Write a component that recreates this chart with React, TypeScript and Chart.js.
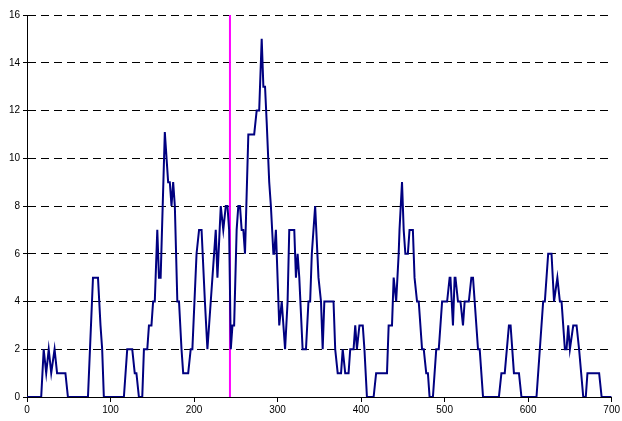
import React, { useEffect, useRef } from "react";
import { Chart, registerables } from "chart.js";

Chart.register(...registerables);

// Series sample positions (x) and values (y)
const seriesX = [
  0, 17, 20, 23, 26, 29, 33, 36, 46, 49, 73, 79, 85, 88, 90, 92, 116, 120, 126, 129,
  131, 134, 138, 140, 144, 146, 149, 151, 153, 156, 158, 160, 165, 169, 171, 173, 175, 177, 180, 182,
  185, 187, 193, 196, 198, 203, 206, 209, 213, 216, 220, 226, 228, 232, 235, 238, 240, 242, 244, 246,
  248, 251, 253, 255, 257, 259, 261, 265, 272, 275, 278, 281, 283, 285, 287, 290, 292, 295, 296, 298,
  302, 305, 309, 312, 314, 320, 322, 324, 326, 330, 334, 337, 339, 341, 345, 349, 352, 354, 356, 367,
  369, 372, 376, 378, 381, 385, 387, 391, 393, 395, 398, 402, 404, 407, 415, 418, 431, 433, 437, 439,
  442, 445, 446, 449, 451, 453, 456, 458, 462, 464, 467, 469, 473, 475, 478, 480, 482, 486, 490, 493,
  497, 503, 506, 507, 510, 512, 513, 516, 519, 522, 524, 529, 532, 534, 536, 540, 542, 546, 565, 568,
  572, 577, 579, 583, 589, 592, 610, 614, 618, 620, 624, 628, 631, 635, 638, 640, 644, 646, 648, 650,
  654, 658, 661, 666, 669, 671, 685, 688, 700,
];
const seriesY = [
  0, 0, 2, 1, 2, 1, 2, 1, 1, 0, 0, 5, 5, 3, 2, 0, 0, 2, 2, 1,
  1, 0, 0, 2, 2, 3, 3, 4, 4, 7, 5, 5, 11.1, 9, 9, 8, 9, 8, 4, 4,
  2, 1, 1, 2, 2, 6, 7, 7, 4, 2, 4, 7, 5, 8, 7, 8, 8, 7, 2, 3,
  3, 7, 8, 8, 7, 7, 6, 11, 11, 12, 12, 15, 13, 13, 11.5, 9, 8, 6, 6, 7,
  3, 4, 2, 4, 7, 7, 5, 6, 5, 2, 2, 4, 4, 6, 8, 5, 4, 2, 4, 4,
  2, 1, 1, 2, 1, 1, 2, 2, 3, 2, 3, 3, 2, 0, 0, 1, 1, 3, 3, 5,
  4, 6, 7, 9, 7, 6, 6, 7, 7, 5, 4, 4, 2, 2, 1, 1, 0, 0, 2, 2,
  4, 4, 5, 5, 3, 5, 5, 4, 4, 3, 4, 4, 5, 5, 4, 2, 2, 0, 0, 1,
  1, 3, 3, 1, 1, 0, 0, 2, 4, 4, 6, 6, 4, 5, 4, 4, 2, 2, 3, 2,
  3, 3, 2, 0, 0, 1, 1, 0, 0,
];

// Vertical marker
const markerX = 243;
const markerYRange = [0, 16];

// Axis ranges
const xRange = [0, 700];
const xStep = 100;
const yRange = [0, 16];
const yStep = 2;

export default function App() {
  const canvasRef = useRef<HTMLCanvasElement | null>(null);

  useEffect(() => {
    const canvas = canvasRef.current;
    if (!canvas) return;
    const mainData = seriesX.map((x, i) => ({ x, y: seriesY[i] }));
    const markerData = markerYRange.map((y) => ({ x: markerX, y }));
    const font = { family: "'Liberation Sans', Arial, sans-serif", size: 10 };

    const chart = new Chart(canvas, {
      type: "line",
      data: {
        datasets: [
          {
            data: mainData,
            borderColor: "#000080",
            borderWidth: 2,
            pointRadius: 0,
            tension: 0,
            fill: false,
          },
          {
            data: markerData,
            borderColor: "#FF00FF",
            borderWidth: 2,
            pointRadius: 0,
            tension: 0,
            fill: false,
          },
        ],
      },
      options: {
        animation: false,
        responsive: false,
        layout: { padding: { left: 0, top: 15, right: 9, bottom: 0 } },
        plugins: {
          legend: { display: false },
          tooltip: { enabled: false },
        },
        scales: {
          x: {
            type: "linear",
            min: xRange[0],
            max: xRange[1],
            ticks: { stepSize: xStep, color: "#000", font, padding: 2, maxRotation: 0 },
            grid: {
              drawOnChartArea: false,
              drawTicks: true,
              tickLength: 5,
              color: "#000",
            },
            border: { display: true, color: "#000", width: 1 },
            afterFit: (scale: any) => {
              scale.height = 24;
            },
          },
          y: {
            type: "linear",
            min: yRange[0],
            max: yRange[1],
            ticks: { stepSize: yStep, color: "#000", font, padding: 3 },
            grid: {
              drawOnChartArea: true,
              drawTicks: true,
              tickLength: 4,
              color: "#000",
              lineWidth: 1,
              tickBorderDash: [],
            } as any,
            border: { display: true, color: "#000", width: 1, dash: [8, 5] },
            afterFit: (scale: any) => {
              scale.width = 27;
            },
          },
        },
      },
    });
    return () => chart.destroy();
  }, []);

  return (
    <div style={{ position: "absolute", left: 0, top: 0, width: 622, height: 421, background: "#fff" }}>
      <canvas ref={canvasRef} width={622} height={421} style={{ display: "block" }} />
    </div>
  );
}
